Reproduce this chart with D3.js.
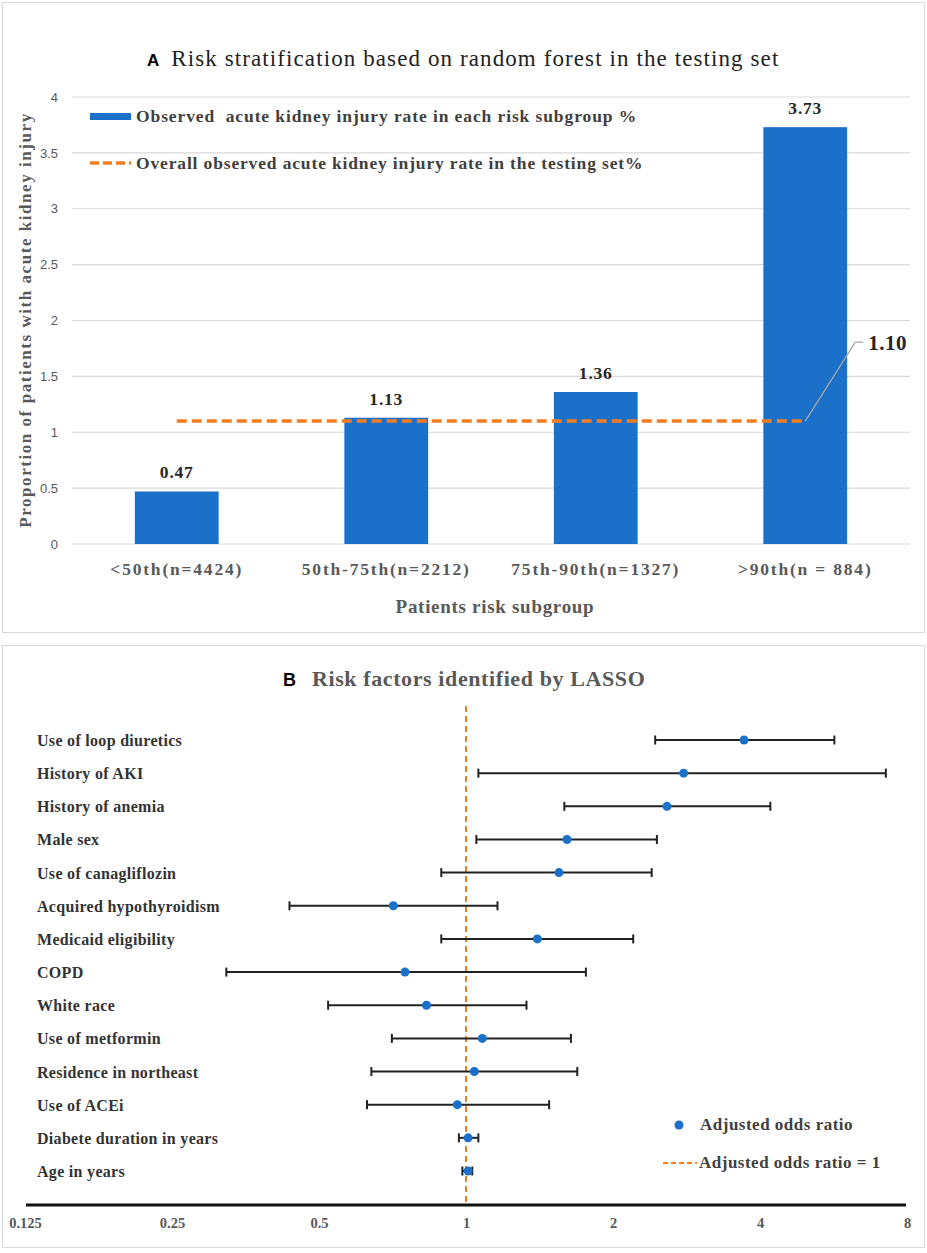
<!DOCTYPE html>
<html>
<head>
<meta charset="utf-8">
<script src="https://cdn.jsdelivr.net/npm/d3@7"></script>
<style>
  body { margin: 0; background: #fff; }
  text { font-family: "Liberation Serif", serif; }
</style>
</head>
<body>
<div id="chart"></div>
<script>
// panel A data
const categories = ["<50th(n=4424)", "50th-75th(n=2212)", "75th-90th(n=1327)", ">90th(n = 884)"];
const observedRates = [0.47, 1.13, 1.36, 3.73];
const overallRate = 1.10;
const rateTicks = [0, 0.5, 1, 1.5, 2, 2.5, 3, 3.5, 4];

// panel B data
const factors = ["Use of loop diuretics", "History of AKI", "History of anemia", "Male sex",
  "Use of canagliflozin", "Acquired hypothyroidism", "Medicaid eligibility", "COPD",
  "White race", "Use of metformin", "Residence in northeast", "Use of ACEi",
  "Diabete duration in years", "Age in years"];
const oddsRatios = [3.71, 2.79, 2.58, 1.61, 1.55, 0.71, 1.40, 0.75, 0.83, 1.08, 1.04, 0.96, 1.01, 1.01];
const ciLower = [2.44, 1.06, 1.59, 1.05, 0.89, 0.435, 0.89, 0.323, 0.522, 0.705, 0.64, 0.627, 0.967, 0.983];
const ciUpper = [5.68, 7.24, 4.20, 2.46, 2.40, 1.16, 2.20, 1.76, 1.33, 1.64, 1.69, 1.48, 1.06, 1.03];
const oddsTicks = [0.125, 0.25, 0.5, 1, 2, 4, 8];

const blue = "#1b70c9";
const orange = "#f47d20";
const W = 927, H = 1253;

const svg = d3.select("#chart").append("svg")
  .attr("width", W)
  .attr("height", H);

// ---------- panel A ----------
svg.append("rect")
  .attr("x", 2.5).attr("y", 2.5).attr("width", 922).attr("height", 630)
  .attr("fill", "none").attr("stroke", "#d9d9d9");

const titleA = svg.append("text").attr("x", 147).attr("y", 66);
titleA.append("tspan").text("A")
  .style("font-family", "Liberation Sans").style("font-weight", "bold").style("font-size", "17px");
titleA.append("tspan").attr("dx", 12).text("Risk stratification based on random forest in the testing set")
  .style("font-size", "23px").style("letter-spacing", "1.1px").attr("fill", "#222");

const x_scale = d3.scaleBand()
  .domain(categories)
  .range([72, 910])
  .paddingInner(0.6)
  .paddingOuter(0.3);
const y_scale = d3.scaleLinear()
  .domain([0, 4])
  .range([544, 97]);

// gridlines
svg.append("g").selectAll("line")
  .data(rateTicks)
  .join("line")
  .attr("x1", 72).attr("x2", 910)
  .attr("y1", d => y_scale(d)).attr("y2", d => y_scale(d))
  .attr("stroke", "#d9d9d9").attr("stroke-width", 1.2);

const yAxis = svg.append("g")
  .attr("transform", "translate(72,0)")
  .call(d3.axisLeft(y_scale).tickValues(rateTicks).tickSize(0).tickPadding(14).tickFormat(d => d));
yAxis.select(".domain").remove();
yAxis.selectAll("text")
  .style("font-family", "Liberation Sans").style("font-size", "13px").attr("fill", "#595959");

// bars
svg.append("g").selectAll("rect")
  .data(observedRates)
  .join("rect")
  .attr("x", (d, i) => x_scale(categories[i]))
  .attr("y", d => y_scale(d))
  .attr("width", x_scale.bandwidth())
  .attr("height", d => y_scale(0) - y_scale(d))
  .attr("fill", blue);

svg.append("g").selectAll("text")
  .data(observedRates)
  .join("text")
  .attr("x", (d, i) => x_scale(categories[i]) + x_scale.bandwidth() / 2)
  .attr("y", d => y_scale(d) - 13)
  .attr("text-anchor", "middle")
  .style("font-size", "17.5px").style("font-weight", "bold").style("letter-spacing", "0.8px")
  .attr("fill", "#262626")
  .text(d => d.toFixed(2));

// overall rate line
const overall = d3.line()
  .x(d => x_scale(d) + x_scale.bandwidth() / 2)
  .y(() => y_scale(overallRate));
svg.append("path")
  .attr("d", overall([categories[0], categories[categories.length - 1]]))
  .attr("fill", "none").attr("stroke", orange)
  .attr("stroke-width", 3.5).attr("stroke-dasharray", "10,5");

// leader to 1.10 label
const lx = x_scale(categories[3]) + x_scale.bandwidth() / 2;
const ly = y_scale(overallRate);
svg.append("path")
  .attr("d", `M${lx},${ly}L${lx + 50},${ly - 79}L${lx + 58},${ly - 79}`)
  .attr("fill", "none").attr("stroke", "#a6a6a6").attr("stroke-width", 1.3);
svg.append("text")
  .attr("x", lx + 63).attr("y", ly - 71)
  .style("font-size", "21px").style("font-weight", "bold").style("letter-spacing", "0.5px")
  .attr("fill", "#262626")
  .text(overallRate.toFixed(2));

// x axis labels
const xAxis = svg.append("g")
  .attr("transform", "translate(0,544)")
  .call(d3.axisBottom(x_scale).tickSize(0).tickPadding(0));
xAxis.select(".domain").remove();
xAxis.selectAll("text")
  .attr("dy", null).attr("y", 31)
  .style("font-size", "17.5px").style("font-weight", "bold").style("letter-spacing", "1.8px")
  .attr("fill", "#595959");

svg.append("text")
  .attr("x", 495).attr("y", 613)
  .attr("text-anchor", "middle")
  .style("font-size", "19px").style("font-weight", "bold").style("letter-spacing", "0.7px")
  .attr("fill", "#595959")
  .text("Patients risk subgroup");

svg.append("text")
  .attr("transform", "translate(31,320) rotate(-90)")
  .attr("text-anchor", "middle")
  .style("font-size", "17px").style("font-weight", "bold").style("letter-spacing", "1.55px")
  .attr("fill", "#595959")
  .text("Proportion of patients with acute kidney injury");

// legend A
const legA = svg.append("g");
legA.append("rect").attr("x", 90).attr("y", 113).attr("width", 41).attr("height", 7).attr("fill", blue);
legA.append("text").attr("x", 136).attr("y", 122)
  .attr("xml:space", "preserve").style("white-space", "pre")
  .style("font-size", "17.5px").style("font-weight", "bold").style("letter-spacing", "0.9px")
  .attr("fill", "#404040")
  .text("Observed  acute kidney injury rate in each risk subgroup %");
legA.append("line").attr("x1", 90).attr("x2", 131).attr("y1", 163).attr("y2", 163)
  .attr("stroke", orange).attr("stroke-width", 3.5).attr("stroke-dasharray", "9,4");
legA.append("text").attr("x", 136).attr("y", 169)
  .style("font-size", "17.5px").style("font-weight", "bold").style("letter-spacing", "0.85px")
  .attr("fill", "#404040")
  .text("Overall observed acute kidney injury rate in the testing set%");

// ---------- panel B ----------
svg.append("rect")
  .attr("x", 2.5).attr("y", 645.5).attr("width", 922).attr("height", 602)
  .attr("fill", "none").attr("stroke", "#d9d9d9");

const titleB = svg.append("text").attr("x", 283).attr("y", 686);
titleB.append("tspan").text("B")
  .style("font-family", "Liberation Sans").style("font-weight", "bold").style("font-size", "18px");
titleB.append("tspan").attr("dx", 16).text("Risk factors identified by LASSO")
  .style("font-size", "22px").style("font-weight", "bold").style("letter-spacing", "0.6px")
  .attr("fill", "#595959");

const or_scale = d3.scaleLog()
  .base(2)
  .domain([0.125, 8])
  .range([25, 907]);
const row_scale = d3.scalePoint()
  .domain(factors)
  .range([740, 1171]);

// reference line at 1
svg.append("line")
  .attr("x1", or_scale(1)).attr("x2", or_scale(1))
  .attr("y1", 706).attr("y2", 1205)
  .attr("stroke", orange).attr("stroke-width", 2).attr("stroke-dasharray", "6,4");

const rows = svg.append("g").selectAll("g")
  .data(factors)
  .join("g")
  .attr("transform", d => `translate(0,${row_scale(d)})`);

rows.append("text")
  .attr("x", 37).attr("y", 6)
  .style("font-size", "16px").style("font-weight", "bold").style("letter-spacing", "0.3px")
  .attr("fill", "#333")
  .text(d => d);

rows.append("line")
  .attr("x1", (d, i) => or_scale(ciLower[i]))
  .attr("x2", (d, i) => or_scale(ciUpper[i]))
  .attr("stroke", "#222").attr("stroke-width", 2);
rows.append("line")
  .attr("x1", (d, i) => or_scale(ciLower[i])).attr("x2", (d, i) => or_scale(ciLower[i]))
  .attr("y1", -4.5).attr("y2", 4.5)
  .attr("stroke", "#222").attr("stroke-width", 2);
rows.append("line")
  .attr("x1", (d, i) => or_scale(ciUpper[i])).attr("x2", (d, i) => or_scale(ciUpper[i]))
  .attr("y1", -4.5).attr("y2", 4.5)
  .attr("stroke", "#222").attr("stroke-width", 2);
rows.append("circle")
  .attr("cx", (d, i) => or_scale(oddsRatios[i]))
  .attr("r", 4.5)
  .attr("fill", blue);

// x axis B
const orAxis = svg.append("g")
  .attr("transform", "translate(0,1205)")
  .call(d3.axisBottom(or_scale).tickValues(oddsTicks).tickSize(0).tickPadding(13).tickFormat(d => d));
orAxis.select(".domain")
  .attr("d", "M26,0H906")
  .attr("stroke", "#111").attr("stroke-width", 3);
orAxis.selectAll("text")
  .style("font-family", "Liberation Serif").style("font-size", "14.5px").style("font-weight", "bold")
  .attr("fill", "#595959");

// legend B
const legB = svg.append("g");
legB.append("circle").attr("cx", 679).attr("cy", 1125).attr("r", 4.5).attr("fill", blue);
legB.append("text").attr("x", 700).attr("y", 1130)
  .style("font-size", "17px").style("font-weight", "bold").style("letter-spacing", "0.5px")
  .attr("fill", "#404040")
  .text("Adjusted odds ratio");
legB.append("line").attr("x1", 663).attr("x2", 697).attr("y1", 1163).attr("y2", 1163)
  .attr("stroke", orange).attr("stroke-width", 2).attr("stroke-dasharray", "5,3");
legB.append("text").attr("x", 699).attr("y", 1168)
  .style("font-size", "17px").style("font-weight", "bold").style("letter-spacing", "0.5px")
  .attr("fill", "#404040")
  .text("Adjusted odds ratio = 1");
</script>
</body>
</html>
